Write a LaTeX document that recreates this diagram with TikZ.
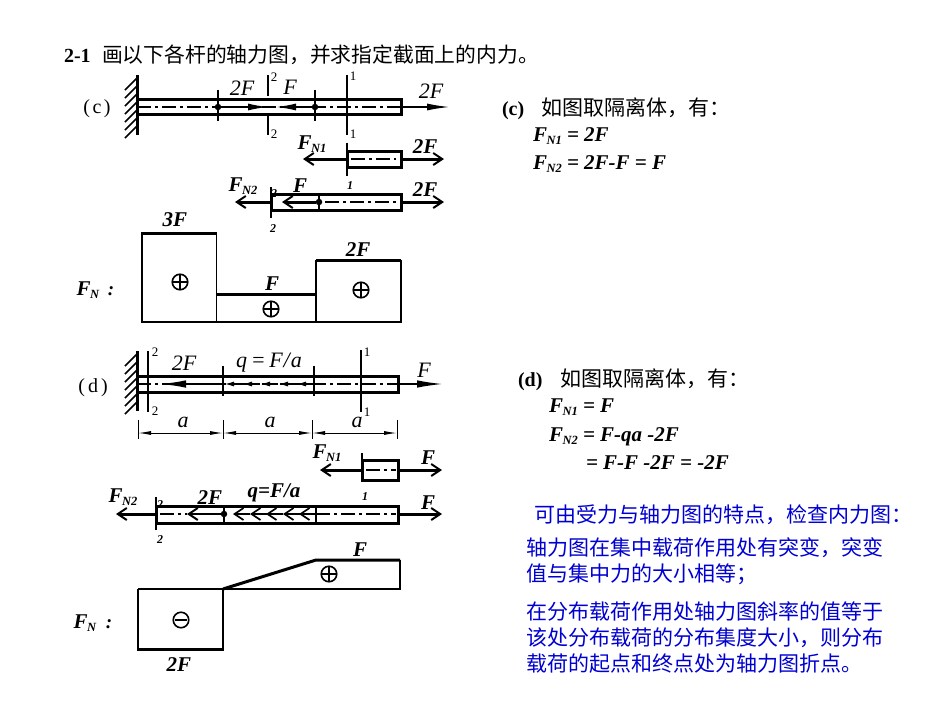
\documentclass[tikz,border=0pt]{standalone}
\usepackage{fontspec}
\setmainfont{Liberation Serif}
\newfontfamily\cjk{Noto Sans CJK SC}
\usetikzlibrary{arrows.meta}
\definecolor{noteblue}{RGB}{0,0,210}
\newcommand{\bi}[2]{{\fontsize{#1}{#1}\selectfont\bfseries\itshape #2}}
\newcommand{\fn}[2]{{\fontsize{#1}{#1}\selectfont\bfseries\itshape F\kern-0.5pt\raisebox{-3.5pt}{\fontsize{12.5}{12.5}\selectfont #2}}}
\tikzset{
  x=1pt,y=-1pt,
  txt/.style={inner sep=0pt,outer sep=0pt,anchor=center},
  ltxt/.style={inner sep=0pt,outer sep=0pt,anchor=base west},
  note/.style={ltxt,font=\fontsize{21}{21}\selectfont\cjk},
  blue note/.style={ltxt,text=noteblue,font=\fontsize{21}{21}\selectfont\cjk},
  math/.style={ltxt,font=\fontsize{21}{21}\selectfont\bfseries\itshape},
  fig/.style={txt,font=\fontsize{22}{22}\selectfont\itshape},
  small/.style={txt,font=\fontsize{13}{13}\selectfont},
  barline/.style={line width=3pt},
  thinline/.style={line width=1.3pt},
  axis/.style={line width=1.3pt,dash pattern=on 14pt off 4pt on 3pt off 4pt},
  solidarrow/.style={line width=1.6pt,-{Latex[length=20pt,width=7pt]}},
  openarrow/.style={line width=3pt,-{Straight Barb[length=9pt,width=12pt,line width=2pt]}},
  chev/.style={line width=1.6pt,-{Straight Barb[length=9pt,width=12pt,line width=1.7pt]}},
  dimarrow/.style={line width=1pt,{Latex[length=13pt,width=4pt]}-{Latex[length=13pt,width=4pt]}},
  diag/.style={line width=1.5pt},
  diagtop/.style={line width=3pt},
  dotmark/.style={circle,fill=black,inner sep=0pt,minimum size=6.5pt},
  circledsign/.style={circle,draw,line width=1.6pt,inner sep=0pt,minimum size=15.5pt},
}
\newcommand{\wall}[4]{% x, y0, y0+step, ylast
  \draw[line width=3pt] (#1,#2) -- (#1,#4+12);
  \foreach \yy in {#2,#3,...,#4}{\draw[line width=1.5pt] (#1,\yy+3) -- (#1-12,\yy+15);}
}
\newcommand{\plusmark}[3]{\node[circledsign] (#1) at (#2,#3) {};
  \draw[line width=1.4pt] (#2-7.5,#3) -- (#2+7.5,#3) (#2,#3-7.5) -- (#2,#3+7.5);}
\begin{document}
\begin{tikzpicture}
\useasboundingbox (0,0) rectangle (950,713);
\fill[white] (0,0) rectangle (950,713);
% title
\node[ltxt,font=\fontsize{20}{20}\selectfont\bfseries] (title1) at (64,62) {2-1};
\node[note] (title2) at (102,62) {\fontsize{20.8}{20.8}\selectfont 画以下各杆的轴力图，并求指定截面上的内力。};
% ---- (c) main bar
\node[txt,font=\fontsize{20}{20}\selectfont] (clabel) at (97,109) {(\kern2.5pt c\kern2.5pt)};
\wall{137}{75}{83}{123}
\draw[barline] (137,99) rectangle (401,114);
\draw[axis] (137,107) -- (401,107);
\draw[thinline] (218,90) -- (218,121) (315,90) -- (315,121);
\draw[thinline] (268,75) -- (268,96) (268,115) -- (268,135);
\draw[thinline] (347,75) -- (347,135);
\node[dotmark] (cd1) at (218,107) {};
\node[dotmark] (cd2) at (315,107) {};
\draw[solidarrow] (cd1) -- (268,107);
\draw[solidarrow] (cd2) -- (276,107);
\draw[solidarrow,-{Latex[length=23pt,width=7pt]}] (401,107) -- (450,107);
\node[fig] (c2f) at (242,88) {2F};
\node[fig] (cf) at (290,87) {F};
\node[fig] (c2fr) at (431,91) {2F};
\node[small] (c2a) at (274,77) {2};
\node[small] (c2b) at (274,134) {2};
\node[small] (c1a) at (353,76) {1};
\node[small] (c1b) at (353,134) {1};
% FB1
\draw[barline] (347,151) rectangle (401,167);
\draw[axis] (351,159) -- (396,159);
\draw[thinline] (347,143) -- (347,176);
\draw[openarrow] (347,159) -- (303,159);
\draw[openarrow] (401,159) -- (444,159);
\node[txt] (cfn1) at (312,144) {\fn{21}{N1}};
\node[txt] (c2f1) at (425,147) {\bi{21}{2F}};
% FB2
\draw[barline] (271,194) rectangle (401,210);
\draw[axis] (325,202) -- (398,202);
\draw[thinline] (271,187) -- (271,218);
\draw[thinline] (319,194) -- (319,210);
\draw[openarrow] (271,202) -- (235,202);
\draw[openarrow] (401,202) -- (444,202);
\node[dotmark] (cd3) at (319,202) {};
\draw[openarrow] (cd3) -- (282,202);
\node[txt] (cfn2) at (243,186) {\fn{21}{N2}};
\node[txt] (cf2) at (300,186) {\bi{21}{F}};
\node[txt] (c2f2) at (425,190) {\bi{21}{2F}};
\node[txt] (c1c) at (350,186) {\bi{12}{1}};
\node[txt] (c2c) at (273,229) {\bi{12}{2}};
\node[txt] (c2d) at (274,194) {\bi{12}{2}};
% FN (c)
\draw[diag] (142,233) -- (142,322) (401,322) -- (401,260);
\draw[diag] (216.5,233) -- (216.5,322) (316,260) -- (316,322);
\draw[diagtop] (141,233) -- (217,233) (216,294) -- (316,294) (316,260) -- (401,260);
\draw[line width=2pt] (141,322) -- (402,322);
\plusmark{cp1}{180}{282}
\plusmark{cp2}{271}{309}
\plusmark{cp3}{361}{290}
\node[txt] (c3ft) at (175,220) {\bi{21}{3F}};
\node[txt] (cft) at (272,284) {\bi{21}{F}};
\node[txt] (c2ft) at (358,250) {\bi{21}{2F}};
\node[txt] (cfnl) at (88,290) {\fn{21}{N}};
\node[txt] (ccolon) at (111,291) {\bi{19}{:}};
% ---- (d) main bar
\node[txt,font=\fontsize{20}{20}\selectfont] (dlabel) at (93,388) {(\kern3pt d\kern3pt)};
\wall{137}{351}{359}{399}
\draw[barline] (137,376) rectangle (398,392);
\draw[axis] (137,384) -- (398,384);
\draw[thinline] (148,351) -- (148,412) (361,350) -- (361,412);
\draw[thinline] (223,366) -- (223,396) (314,366) -- (314,396);
\draw[solidarrow,line width=2.4pt,-{Latex[length=28pt,width=7.5pt]}] (223,384) -- (158,384);
\foreach \xx in {314,296,278,260,242}{\draw[line width=1.6pt,-{Latex[length=10pt,width=5pt]}] (\xx,384) -- (\xx-18,384);}
\draw[solidarrow,-{Latex[length=26pt,width=7.5pt]}] (398,384) -- (443,384);
\node[fig] (d2f) at (184,363) {2F};
\node[fig] (dq) at (269,363) {q\,=\,F\kern1pt/\kern1pt a};
\node[fig] (dfr) at (424,370) {F};
\node[small] (d2a) at (155,352) {2};
\node[small] (d2b) at (155,411) {2};
\node[small] (d1a) at (367,352) {1};
\node[small] (d1b) at (367,412) {1};
% dims
\draw[line width=1pt] (138,420) -- (138,439) (223,420) -- (223,439) (312,420) -- (312,439) (397,420) -- (397,439);
\draw[dimarrow] (138,433) -- (223,433);
\draw[dimarrow] (223,433) -- (312,433);
\draw[dimarrow] (312,433) -- (397,433);
\node[fig] (da1) at (183,422) {a};
\node[fig] (da2) at (270,422) {a};
\node[fig] (da3) at (357,422) {a};
% FB1 d
\draw[barline] (362,460) rectangle (398,480);
\draw[axis] (366,470) -- (396,470);
\draw[thinline] (362,453) -- (362,481);
\draw[openarrow] (362,470) -- (320,470);
\draw[openarrow] (398,470) -- (442,470);
\node[txt] (dfn1) at (327,453) {\fn{21}{N1}};
\node[txt] (df1) at (428,458) {\bi{21}{F}};
% FB2 d
\draw[barline] (156,506) rectangle (398,523);
\draw[axis] (160,514) -- (187,514);
\draw[axis] (316,514) -- (396,514);
\draw[thinline] (156,497) -- (156,530);
\draw[thinline] (224,506) -- (224,523) (316,506) -- (316,523);
\draw[openarrow] (156,514) -- (116,514);
\draw[openarrow] (398,514) -- (442,514);
\node[dotmark] (dd) at (224,514) {};
\draw[openarrow,line width=2.2pt] (dd) -- (187,514);
\foreach \xx in {316,300,283,267,250}{\draw[chev] (\xx,514) -- (\xx-17,514);}
\node[txt] (dfn2) at (123,497) {\fn{21}{N2}};
\node[txt] (d2f2) at (210,498) {\bi{21}{2F}};
\node[txt] (dq2) at (274,493) {\bi{21}{q=F/a}};
\node[txt] (d1c) at (365,497) {\bi{12}{1}};
\node[txt] (df2) at (428,503) {\bi{21}{F}};
\node[txt] (d2c) at (160,540) {\bi{12}{2}};
\node[txt] (d2d) at (160,505) {\bi{12}{2}};
% FN (d)
\draw[diag] (138,589) -- (138,649) (223,589) -- (223,649) (400,560) -- (400,589);
\draw[line width=2pt] (138,589) -- (401,589);
\draw[diagtop] (137,649) -- (224,649);
\draw[diagtop] (223,589) -- (316,560) -- (400,560);
\plusmark{dp}{329}{574}
\node[circledsign] (dm) at (181,620) {};
\draw[line width=1.4pt] (175,620) -- (187,620);
\node[txt] (dft) at (360,550) {\bi{21}{F}};
\node[txt] (d2ft) at (179,665) {\bi{21}{2F}};
\node[txt] (dfnl) at (85,623) {\fn{21}{N}};
\node[txt] (dcolon) at (109,624) {\bi{19}{:}};
% right text (c)
\node[ltxt,font=\fontsize{20}{20}\selectfont\bfseries] (tc) at (502,115) {(c)};
\node[note] (tc2) at (541,115) {如图取隔离体，有：};
\node[math] (tc3) at (533,141) {\fn{21}{N1} = 2F};
\node[math] (tc4) at (533,169) {\fn{21}{N2} = 2F-F = F};
% right text (d)
\node[ltxt,font=\fontsize{20}{20}\selectfont\bfseries] (td) at (518,386) {(d)};
\node[note] (td2) at (560,386) {如图取隔离体，有：};
\node[math] (td3) at (549,412) {\fn{21}{N1} = F};
\node[math] (td4) at (549,441) {\fn{21}{N2} = F-qa -2F};
\node[math] (td5) at (586,469) {= F-F -2F = -2F};
% blue notes
\node[blue note] (b1) at (534,522) {可由受力与轴力图的特点，检查内力图：};
\node[blue note] (b2) at (526,555) {轴力图在集中载荷作用处有突变，突变};
\node[blue note] (b3) at (526,581) {值与集中力的大小相等；};
\node[blue note] (b4) at (526,619) {在分布载荷作用处轴力图斜率的值等于};
\node[blue note] (b5) at (526,645) {该处分布载荷的分布集度大小，则分布};
\node[blue note] (b6) at (526,671) {载荷的起点和终点处为轴力图折点。};
\end{tikzpicture}
\end{document}
